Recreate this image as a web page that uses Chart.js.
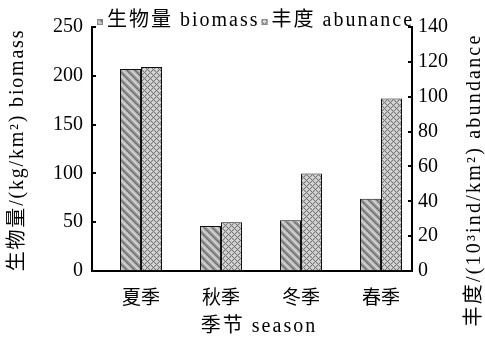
<!DOCTYPE html>
<html>
<head>
<meta charset="utf-8">
<script src="https://cdn.jsdelivr.net/npm/chart.js@4/dist/chart.umd.min.js"></script>
<style>
html,body{margin:0;padding:0;background:#fff;}
canvas{display:block;}
</style>
</head>
<body>
<canvas id="c" width="485" height="341"></canvas>
<script>
// ---- data ----
const categories = ['夏季', '秋季', '冬季', '春季'];
const biomass = [207, 46, 52, 74];
const abundance = [117, 28, 56, 99];
const leftTicks = [0, 50, 100, 150, 200, 250];
const rightTicks = [0, 20, 40, 60, 80, 100, 120, 140];
const seriesLabels = ['生物量 biomass', '丰度 abunance'];
const leftTitle = '生物量/(kg/km²) biomass';
const rightTitle = '丰度/(10³ind/km²) abundance';
const xTitle = '季节 season';

// ---- patterns ----
function stripePattern() {
  const c = document.createElement('canvas');
  c.width = 8; c.height = 8;
  const g = c.getContext('2d');
  for (let x = 0; x < 8; x++) for (let y = 0; y < 8; y++) {
    const m = ((x - y) % 8 + 8) % 8;
    let col = '#b8b8b8';
    if (m < 2) col = '#767676';
    else if (m < 4) col = '#9c9c9c';
    else if (m < 6) col = '#d0d0d0';
    g.fillStyle = col; g.fillRect(x, y, 1, 1);
  }
  return g.createPattern(c, 'repeat');
}
function crossPattern() {
  const c = document.createElement('canvas');
  c.width = 6; c.height = 6;
  const g = c.getContext('2d');
  for (let x = 0; x < 6; x++) for (let y = 0; y < 6; y++) {
    const a = (x + y) % 6 === 0, b = ((x - y) % 6 + 6) % 6 === 0;
    let col = '#e0e0e0';
    if (a || b) col = '#787878';
    else if ((x + y) % 2 === 1) col = '#c0c0c0';
    g.fillStyle = col; g.fillRect(x, y, 1, 1);
  }
  return g.createPattern(c, 'repeat');
}
const pStripe = stripePattern();
const pCross = crossPattern();

const SERIF = '"Liberation Serif", "Noto Sans CJK SC", serif';
const CJK = '"Noto Sans CJK SC", "Liberation Serif", serif';

function spacedText(ctx, text, x, y, sp) {
  if ('letterSpacing' in ctx) ctx.letterSpacing = sp + 'px';
  ctx.fillText(text, x, y);
  if ('letterSpacing' in ctx) ctx.letterSpacing = '0px';
}

const decor = {
  id: 'decor',
  afterDraw(chart) {
    const ctx = chart.ctx;
    const a = chart.chartArea;
    const y = chart.scales.y, y1 = chart.scales.y1;
    ctx.save();
    ctx.strokeStyle = '#000';
    ctx.lineWidth = 2;
    // inward ticks
    leftTicks.forEach(v => {
      const py = Math.round(y.getPixelForValue(v));
      ctx.beginPath(); ctx.moveTo(a.left, py); ctx.lineTo(a.left + 4, py); ctx.stroke();
    });
    rightTicks.forEach(v => {
      const py = Math.round(y1.getPixelForValue(v));
      ctx.beginPath(); ctx.moveTo(a.right, py); ctx.lineTo(a.right - 4, py); ctx.stroke();
    });
    // titles
    ctx.fillStyle = '#000';
    ctx.font = '20px ' + SERIF;
    ctx.textAlign = 'center';
    ctx.textBaseline = 'middle';
    ctx.save();
    ctx.translate(18, (a.top + a.bottom) / 2 + 1);
    ctx.rotate(-Math.PI / 2);
    spacedText(ctx, leftTitle, 0, 0, 1.8);
    ctx.restore();
    ctx.save();
    ctx.translate(475, 180);
    ctx.rotate(-Math.PI / 2);
    spacedText(ctx, rightTitle, 0, 0, 2.2);
    ctx.restore();
    spacedText(ctx, xTitle, 259, 327, 2);
    // legend
    ctx.font = '20px ' + SERIF;
    ctx.textAlign = 'left';
    let x = 97;
    const pats = [pStripe, pCross];
    seriesLabels.forEach((lab, i) => {
      ctx.fillStyle = pats[i];
      ctx.fillRect(x, 19, 6, 6);
      ctx.lineWidth = 1;
      ctx.strokeStyle = '#888';
      ctx.strokeRect(x + 0.5, 19.5, 5, 5);
      ctx.fillStyle = '#000';
      if ('letterSpacing' in ctx) ctx.letterSpacing = '2px';
      ctx.fillText(lab, x + 10, 21);
      const w = ctx.measureText(lab).width;
      if ('letterSpacing' in ctx) ctx.letterSpacing = '0px';
      x += 10 + w + 2;
    });
    ctx.restore();
  }
};

new Chart(document.getElementById('c'), {
  type: 'bar',
  data: {
    datasets: [
      {
        label: seriesLabels[0],
        data: biomass.map((v, i) => ({ x: i + 1, y: v })),
        yAxisID: 'y',
        backgroundColor: pStripe,
        borderColor: '#111',
        borderWidth: 1,
        borderSkipped: false,
        categoryPercentage: 0.525,
        barPercentage: 1.0
      },
      {
        label: seriesLabels[1],
        data: abundance.map((v, i) => ({ x: i + 1, y: v })),
        yAxisID: 'y1',
        backgroundColor: pCross,
        borderColor: '#111',
        borderWidth: 1,
        borderSkipped: false,
        categoryPercentage: 0.525,
        barPercentage: 1.0
      }
    ]
  },
  options: {
    responsive: false,
    animation: false,
    devicePixelRatio: 1,
    layout: { padding: { top: 27, left: 0, right: 0, bottom: 0 } },
    plugins: { legend: { display: false }, tooltip: { enabled: false } },
    scales: {
      x: {
        type: 'linear',
        offset: false,
        min: 0.3875,
        max: 4.3875,
        afterBuildTicks: s => { s.ticks = categories.map((c, i) => ({ value: i + 1 })); },
        afterFit: s => { s.height = 70; },
        grid: { display: false, drawTicks: false },
        border: { display: true, color: '#000', width: 2 },
        ticks: {
          callback: v => categories[v - 1],
          color: '#000',
          font: { family: CJK, size: 19 },
          padding: 14,
          maxRotation: 0,
          autoSkip: false
        }
      },
      y: {
        position: 'left',
        min: 0, max: 250,
        afterBuildTicks: s => { s.ticks = leftTicks.map(v => ({ value: v })); },
        afterFit: s => { s.width = 92; },
        grid: { display: false, drawTicks: false },
        border: { display: true, color: '#000', width: 2 },
        ticks: { color: '#000', font: { family: SERIF, size: 20 }, padding: 9 }
      },
      y1: {
        position: 'right',
        min: 0, max: 140,
        afterBuildTicks: s => { s.ticks = rightTicks.map(v => ({ value: v })); },
        afterFit: s => { s.width = 73; },
        grid: { display: false, drawTicks: false },
        border: { display: true, color: '#000', width: 2 },
        ticks: { color: '#000', font: { family: SERIF, size: 20 }, padding: 6 }
      }
    }
  },
  plugins: [decor]
});
</script>
</body>
</html>
